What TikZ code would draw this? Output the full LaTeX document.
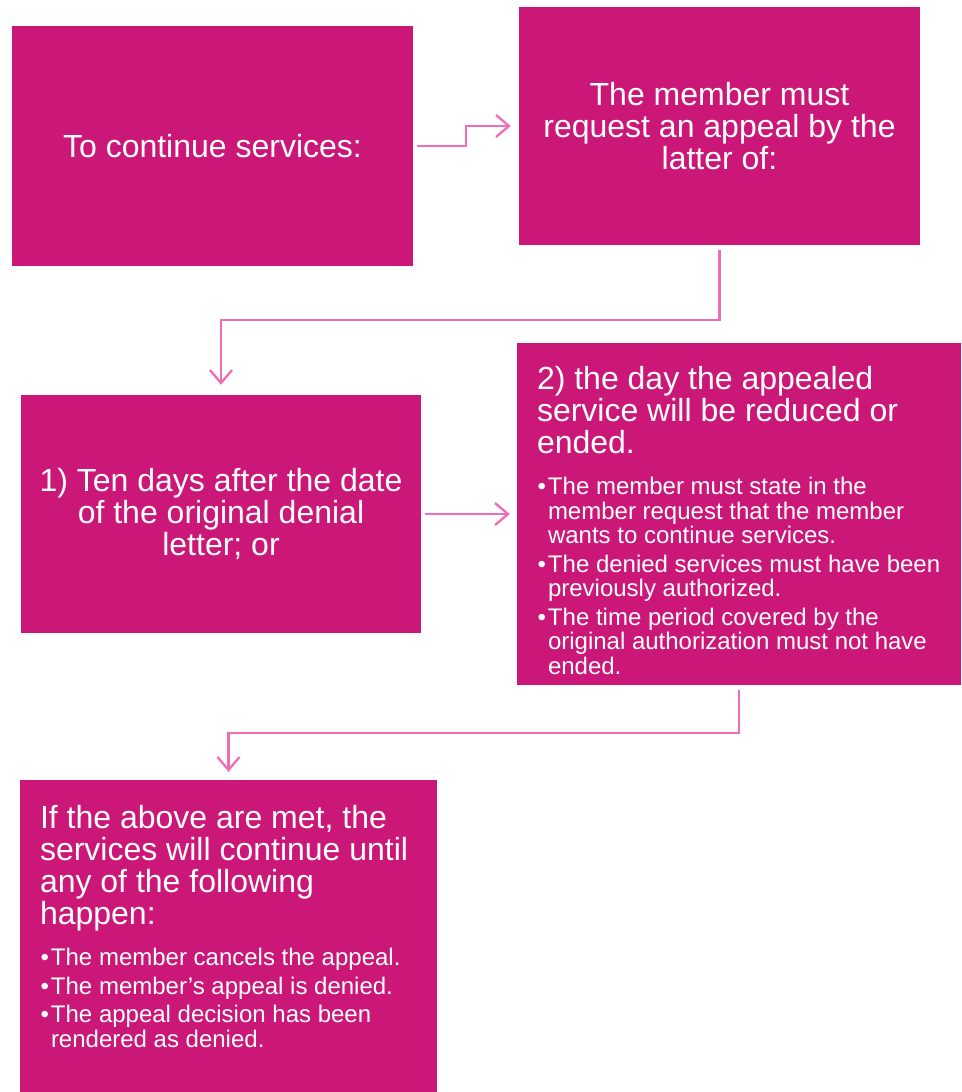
\documentclass[tikz,border=0pt]{standalone}
\usepackage{fontspec}
\setmainfont{Liberation Sans}
\usepackage{tikz}
\usetikzlibrary{arrows.meta}

\definecolor{boxpink}{HTML}{CB1878}
\definecolor{linkpink}{HTML}{EF6DB5}

\newcommand{\bigtext}{\fontsize{32}{32}\selectfont}
\newcommand{\smalltext}{\fontsize{24}{24.5}\selectfont}
\newcommand{\bul}[1]{\par\vspace{4pt}\hangindent=11pt\hangafter=1\noindent\makebox[11pt][r]{•\hspace{2pt}}#1\par}

\begin{document}
\begin{tikzpicture}[x=1pt,y=-1pt,
		box/.style={fill=boxpink, text=white, inner sep=0pt},
		link/.style={draw=linkpink, line width=2.3pt, -{Straight Barb[length=13pt,width=22pt]}}]
		\useasboundingbox (0,0) rectangle (961,1092);

		% Draw the boxes
		\node[box, minimum width=401pt, minimum height=240pt, font=\bigtext] (start) at (212.5,146) {To continue services:};
		\node[box, minimum width=401pt, minimum height=238pt, align=center, font=\bigtext] (request) at (719.5,126)
			{The member must\\ request an appeal by the\\ latter of:};
		\node[box, minimum width=400pt, minimum height=238pt, align=center, font=\bigtext] (tendays) at (221,514)
			{1) Ten days after the date\\ of the original denial\\ letter; or};
		\node[box, minimum width=444pt, minimum height=342pt] (dayended) at (739,514)
			{\parbox[c][296pt][t]{404pt}{\raggedright\bigtext
				2) the day the appealed\\ service will be reduced or\\ ended.\par
				\smalltext\vspace{13pt}
				\bul{The member must state in the\newline member request that the member\newline wants to continue services.}
				\bul{The denied services must have been\newline previously authorized.}
				\bul{The time period covered by the\newline original authorization must not have\newline ended.}}};
		\node[box, minimum width=417pt, minimum height=312pt] (continue) at (228.5,936)
			{\parbox[c][262pt][t]{377pt}{\raggedright\bigtext
				If the above are met, the\\ services will continue until\\ any of the following\\ happen:\par
				\smalltext\vspace{13pt}
				\bul{The member cancels the appeal.}
				\bul{The member’s appeal is denied.}
				\bul{The appeal decision has been\newline rendered as denied.}}};

		% Draw the arrows
		\draw[link] ([xshift=4pt]start.east) -- ++(49,0) |- ([xshift=-8pt]request.west);
		\draw[link] ([yshift=-5pt]request.south) -- ++(0,70) -| ([yshift=10pt]tendays.north);
		\draw[link] ([xshift=4pt]tendays.east) -- ([xshift=-7pt]dayended.west |- tendays.east);
		\draw[link] ([yshift=-5pt]dayended.south) -- ++(0,43) -| ([yshift=8pt]continue.north);
	\end{tikzpicture}
\end{document}
